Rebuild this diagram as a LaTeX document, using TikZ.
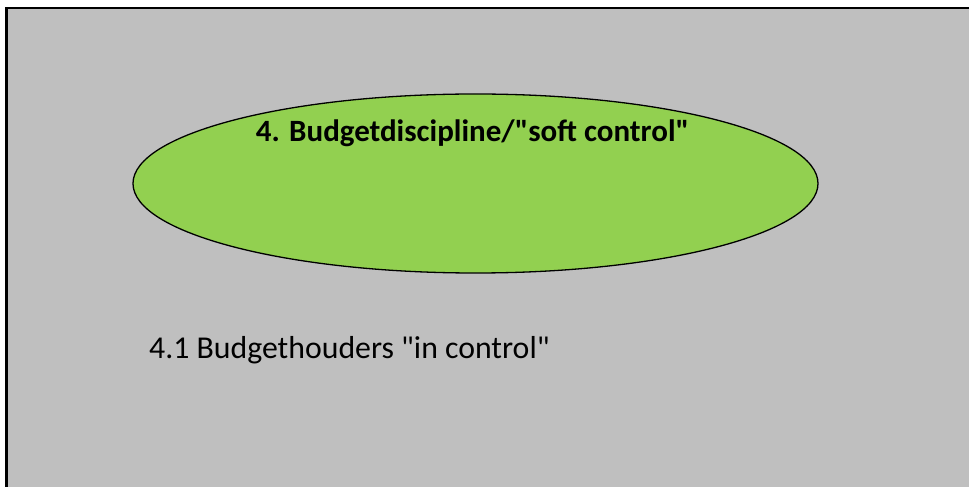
\documentclass[tikz,border=0pt]{standalone}
\usepackage{fontspec}
\setmainfont{Carlito}[Ligatures=TeXOff]
\usetikzlibrary{shapes.geometric}

\definecolor{panelgray}{HTML}{BFBFBF}
\definecolor{softgreen}{HTML}{92D050}

\tikzset{
  topic/.style={ellipse, draw=black, line width=1.3bp, fill=softgreen,
    minimum width=685bp, minimum height=179bp, inner sep=0pt},
  toptext/.style={font=\fontsize{31bp}{31bp}\selectfont\bfseries, inner sep=0pt, anchor=base},
  subtext/.style={font=\fontsize{31.8bp}{32bp}\selectfont, inner sep=0pt, anchor=base west}
}

\begin{document}
\begin{tikzpicture}[x=1bp, y=-1bp]
\useasboundingbox (0,0) rectangle (969,487);
\clip (0,0) rectangle (969,487);
\draw[black, line width=2.2bp, fill=panelgray] (6.5,8) rectangle (1000,520);

\node[topic] (budget) at (475.5,183.5) {};
\node[toptext] (budgettitle) at (472.5,142) {4. Budgetdiscipline/"soft control"};

\node[subtext] (incontrol) at (149,359) {4.1 Budgethouders "in control"};
\end{tikzpicture}
\end{document}
